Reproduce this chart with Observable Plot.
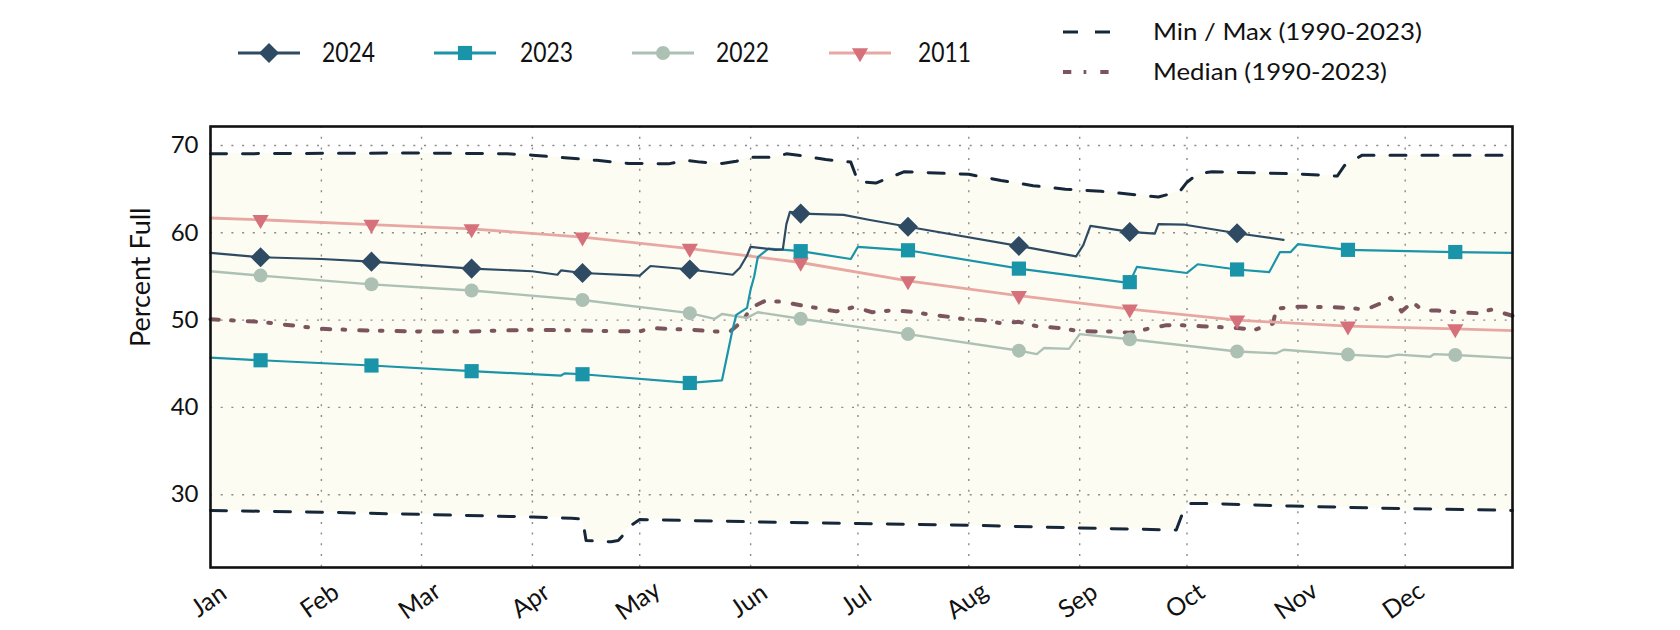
<!DOCTYPE html>
<html><head><meta charset="utf-8">
<script src="https://cdn.jsdelivr.net/npm/d3@7"></script>
<script src="https://cdn.jsdelivr.net/npm/@observablehq/plot@0.6"></script>
<style>
body{margin:0;background:#fff;}
#wrap{position:relative;width:1680px;height:630px;overflow:hidden;}
#legend{position:absolute;left:0;top:0;}
#chart{position:absolute;left:0;top:0;}
</style></head><body><div id="wrap"><div id="chart"></div></div>
<script>
// ---- data (day of year as MM-DD, value in percent full) ----
const monthLabels = ["Jan","Feb","Mar","Apr","May","Jun","Jul","Aug","Sep","Oct","Nov","Dec"];
const monthStarts = ["01-01","02-01","03-01","04-01","05-01","06-01","07-01","08-01","09-01","10-01","11-01","12-01"];
const yTicks = [30,40,50,60,70];
const seriesNames = ["2024","2023","2022","2011"];

const s2024 = [["01-01",57.7],["01-15",57.2],["02-01",57.0],["02-15",56.7],["03-01",56.3],["03-15",55.9],["04-01",55.6],["04-08",55.2],["04-09",55.7],["04-15",55.4],["05-01",55.1],["05-04",56.2],["05-15",55.8],["05-27",55.2],["05-29",56.0],["05-31",57.4],["06-01",58.4],["06-08",58.05],["06-10",58.1],["06-11",61.0],["06-12",62.4],["06-15",62.2],["06-27",62.05],["07-04",61.5],["07-15",60.7],["08-15",58.5],["08-31",57.3],["09-02",58.6],["09-04",60.8],["09-15",60.1],["09-22",59.9],["09-23",61.0],["09-30",60.95],["10-15",59.95],["10-28",59.2]];
const s2023 = [["01-01",45.7],["01-15",45.4],["02-15",44.8],["03-15",44.15],["04-09",43.65],["04-10",43.9],["04-15",43.8],["05-15",42.8],["05-24",43.1],["05-27",49.0],["05-28",50.6],["05-31",51.4],["06-01",53.5],["06-02",55.0],["06-03",57.2],["06-06",58.2],["06-15",57.9],["06-29",57.0],["07-01",58.4],["07-15",58.0],["08-15",55.9],["09-13",54.35],["09-15",54.35],["09-17",56.1],["10-01",55.4],["10-04",56.4],["10-15",55.8],["10-24",55.5],["10-27",57.8],["10-30",57.8],["11-01",58.7],["11-15",58.05],["12-15",57.8],["12-31",57.7]];
const s2022 = [["01-01",55.6],["01-15",55.1],["02-15",54.1],["03-15",53.4],["04-15",52.3],["05-15",50.8],["05-22",50.15],["05-24",50.7],["05-31",50.25],["06-03",50.9],["06-15",50.15],["07-15",48.4],["08-15",46.5],["08-20",46.1],["08-22",46.8],["08-29",46.7],["09-01",48.4],["09-15",47.8],["10-15",46.4],["10-26",46.2],["10-28",46.6],["11-15",46.05],["11-26",45.8],["11-29",46.05],["12-08",45.8],["12-09",46.1],["12-15",46.0],["12-31",45.65]];
const s2011 = [["01-01",61.7],["01-15",61.5],["02-15",60.95],["03-15",60.45],["04-15",59.5],["05-15",58.2],["06-15",56.6],["07-15",54.5],["08-15",52.8],["09-15",51.25],["10-15",50.0],["11-15",49.3],["12-15",49.0],["12-31",48.8]];
const sMedian = [["01-01",50.1],["01-15",49.8],["02-01",49.0],["02-15",48.8],["03-01",48.7],["03-14",48.7],["04-01",48.9],["04-15",48.8],["05-01",48.7],["05-04",49.1],["05-15",48.9],["05-26",48.6],["05-30",50.0],["06-01",51.4],["06-05",52.2],["06-10",52.1],["06-15",51.7],["06-25",51.0],["06-30",51.5],["07-05",50.9],["07-10",51.1],["07-15",51.0],["07-20",50.7],["07-26",50.4],["07-31",50.1],["08-05",50.0],["08-10",49.65],["08-15",49.8],["08-20",49.3],["08-26",49.1],["08-31",48.8],["09-05",48.7],["09-10",48.7],["09-15",48.55],["09-20",49.0],["09-25",49.4],["09-30",49.4],["10-05",49.3],["10-10",49.2],["10-15",49.1],["10-20",48.9],["10-25",49.6],["10-26",51.3],["10-31",51.55],["11-05",51.5],["11-10",51.5],["11-15",51.4],["11-20",51.2],["11-24",51.9],["11-27",52.55],["11-30",51.0],["12-03",52.05],["12-06",51.1],["12-10",51.1],["12-16",50.9],["12-21",50.8],["12-25",51.2],["12-31",50.5]];
const sMax = [["01-01",69.05],["02-27",69.15],["03-25",69.05],["04-01",68.9],["04-10",68.6],["04-19",68.3],["04-28",67.95],["05-09",67.9],["05-14",68.3],["05-18",68.1],["05-24",67.95],["05-28",68.2],["06-01",68.65],["06-08",68.65],["06-11",69.05],["06-15",68.85],["06-22",68.4],["06-29",68.1],["07-01",65.9],["07-06",65.7],["07-14",67.0],["08-01",66.7],["08-10",66.0],["08-19",65.4],["08-28",65.0],["09-07",64.75],["09-23",64.1],["09-29",64.75],["10-01",65.8],["10-04",66.75],["10-08",67.0],["11-01",66.75],["11-12",66.5],["11-14",67.7],["11-19",68.9],["12-31",68.9]];
const sMin = [["01-01",28.2],["02-01",28.0],["04-01",27.45],["04-12",27.3],["04-15",27.2],["04-16",24.75],["04-23",24.6],["04-25",24.75],["04-29",26.6],["05-01",27.15],["06-01",26.9],["07-01",26.7],["08-01",26.5],["08-31",26.2],["09-28",25.95],["09-30",28.15],["10-02",29.0],["10-07",29.0],["10-30",28.7],["12-01",28.4],["12-31",28.2]];

// ---- styles ----
const C = {y2024:"#2e4b63", y2023:"#1a94a8", y2022:"#adc0b4", y2011:"#e8a7a2", m2011:"#d6707a", minmax:"#17273a", median:"#7b545e", fill:"#fcfcf2", grid:"#8a8a8a"};
const FONT = "Lato, 'Open Sans', sans-serif";
const yDomain = [21.66, 72.18];

const toDate = s => new Date(`2001-${s}T00:00:00Z`);
const rows = arr => arr.map(([d, v]) => ({date: toDate(d), mid: d.endsWith("-15"), v}));
const d2024 = rows(s2024), d2023 = rows(s2023), d2022 = rows(s2022), d2011 = rows(s2011);
const dMed = rows(sMedian), dMax = rows(sMax), dMin = rows(sMin);
const monthDates = monthStarts.map(toDate);
const mids = d => d.filter(r => r.mid);

const plot = Plot.plot({
  width: 1680, height: 630,
  marginLeft: 210, marginRight: 168, marginTop: 126, marginBottom: 63,
  style: {fontFamily: FONT, background: "transparent"},
  x: {type: "utc", domain: [toDate("01-01"), toDate("12-31")], axis: null, label: null},
  y: {domain: yDomain, axis: null, label: null},
  marks: [
    Plot.areaY(dMax, {x: "date", y1: yDomain[0], y2: "v", fill: C.fill}),
    Plot.areaY(dMin, {x: "date", y1: yDomain[0], y2: "v", fill: "#ffffff"}),
    Plot.ruleY(yTicks, {stroke: C.grid, strokeWidth: 1.4, strokeDasharray: "2,8.7"}),
    Plot.ruleX(monthDates.slice(1), {stroke: C.grid, strokeWidth: 1.4, strokeDasharray: "2,8.7"}),
    Plot.line(dMax, {x: "date", y: "v", stroke: C.minmax, strokeWidth: 3, strokeDasharray: "16,16"}),
    Plot.line(dMin, {x: "date", y: "v", stroke: C.minmax, strokeWidth: 3, strokeDasharray: "16,16"}),
    Plot.line(dMed, {x: "date", y: "v", stroke: C.median, strokeWidth: 4, strokeDasharray: "8.3,12.3,2.7,14"}),
    Plot.line(d2011, {x: "date", y: "v", stroke: C.y2011, strokeWidth: 2.8}),
    Plot.line(d2022, {x: "date", y: "v", stroke: C.y2022, strokeWidth: 2.4}),
    Plot.line(d2023, {x: "date", y: "v", stroke: C.y2023, strokeWidth: 2.2}),
    Plot.line(d2024, {x: "date", y: "v", stroke: C.y2024, strokeWidth: 2.2}),
    Plot.dot(mids(d2011), {x: "date", y: "v", symbol: "triangle", rotate: 180, r: 6, fill: C.m2011}),
    Plot.dot(mids(d2022), {x: "date", y: "v", symbol: "circle", r: 7, fill: C.y2022}),
    Plot.dot(mids(d2023), {x: "date", y: "v", symbol: "square", r: 8, fill: C.y2023}),
    Plot.dot(mids(d2024), {x: "date", y: "v", symbol: "square", rotate: 45, r: 8, fill: C.y2024}),
    Plot.frame({stroke: "#111", strokeWidth: 2.6}),
    Plot.axisY(yTicks, {tickSize: 0, tickPadding: 12, fontSize: 24, fill: "#111", label: null}),
    Plot.text(monthDates, {x: d => d, text: (d, i) => monthLabels[i], frameAnchor: "bottom", dx: 3, dy: 40, rotate: -35, fontSize: 25, textAnchor: "middle", fill: "#111"}),
    Plot.text(["Percent Full"], {frameAnchor: "left", dx: -69, rotate: -90, fontSize: 27, fill: "#111", text: d => d})
  ]
});
document.getElementById("chart").appendChild(plot);

// ---- legend ----
const leg = d3.select("#wrap").append("svg").attr("id", "legend").attr("width", 1680).attr("height", 110)
  .style("font-family", FONT);
const yearItems = [
  {name: seriesNames[0], line: C.y2024, mark: C.y2024, sym: d3.symbolSquare, rot: 45, size: Math.PI*64, x0: 238, tx: 322},
  {name: seriesNames[1], line: C.y2023, mark: C.y2023, sym: d3.symbolSquare, rot: 0, size: Math.PI*64, x0: 434, tx: 520},
  {name: seriesNames[2], line: C.y2022, mark: C.y2022, sym: d3.symbolCircle, rot: 0, size: Math.PI*49, x0: 632, tx: 716},
  {name: seriesNames[3], line: C.y2011, mark: C.m2011, sym: d3.symbolTriangle, rot: 180, size: Math.PI*36, x0: 829, tx: 918}
];
const LY = 53;
yearItems.forEach(it => {
  leg.append("line").attr("x1", it.x0).attr("x2", it.x0 + 62).attr("y1", LY).attr("y2", LY)
    .attr("stroke", it.line).attr("stroke-width", 3);
  leg.append("path").attr("d", d3.symbol(it.sym, it.size)())
    .attr("transform", `translate(${it.x0 + 31},${LY}) rotate(${it.rot})`).attr("fill", it.mark);
  leg.append("text").attr("x", it.tx).attr("y", LY).attr("dy", "0.35em").attr("font-size", 26)
    .attr("textLength", 53).attr("lengthAdjust", "spacingAndGlyphs").attr("fill", "#111").text(it.name);
});
leg.append("line").attr("x1", 1063).attr("x2", 1113).attr("y1", 32).attr("y2", 32)
  .attr("stroke", C.minmax).attr("stroke-width", 3).attr("stroke-dasharray", "15,17");
leg.append("text").attr("x", 1153).attr("y", 32).attr("dy", "0.35em").attr("font-size", 23)
  .attr("textLength", 269).attr("lengthAdjust", "spacingAndGlyphs").attr("fill", "#111").text("Min / Max (1990-2023)");
leg.append("line").attr("x1", 1063).attr("x2", 1113).attr("y1", 72).attr("y2", 72)
  .attr("stroke", C.median).attr("stroke-width", 4).attr("stroke-dasharray", "8.3,12.3,2.7,14");
leg.append("text").attr("x", 1153).attr("y", 72).attr("dy", "0.35em").attr("font-size", 23)
  .attr("textLength", 234).attr("lengthAdjust", "spacingAndGlyphs").attr("fill", "#111").text("Median (1990-2023)");
</script></body></html>
